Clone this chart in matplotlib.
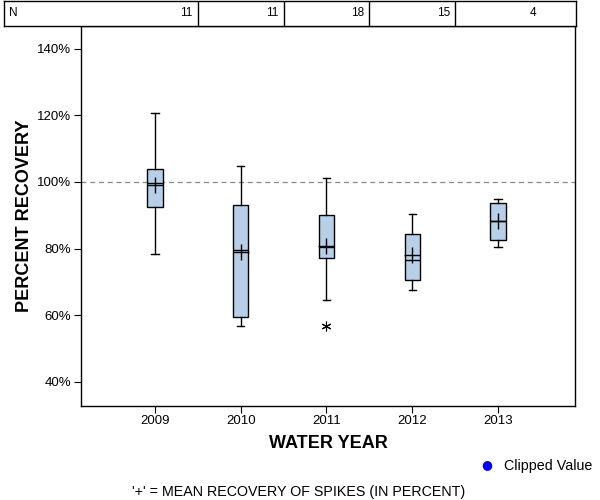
import matplotlib
matplotlib.use("Agg")
import matplotlib.pyplot as plt
from matplotlib.ticker import FuncFormatter

# --- data -----------------------------------------------------------------
years = ["2009", "2010", "2011", "2012", "2013"]
n_samples = [11, 11, 18, 15, 4]
whisker_low = [78.5, 56.7, 64.5, 67.6, 80.6]
q1 = [92.4, 59.4, 77.1, 70.6, 82.7]
median = [99.6, 79.5, 80.5, 76.5, 88.3]
q3 = [103.8, 93.0, 90.0, 84.5, 93.8]
whisker_high = [120.8, 104.8, 101.2, 90.3, 95.0]
mean = [99.0, 78.9, 80.8, 78.1, 88.2]
outliers = [[], [], [56.7], [], []]

BOX_COLOR = "#B8CFE8"
W, H = 600, 500

plt.rcParams["font.family"] = ["Liberation Sans", "DejaVu Sans"]

fig = plt.figure(figsize=(6, 5), dpi=100)
fig.patch.set_facecolor("white")

# main axes: pixel box 81..575 x 26..406
ax = fig.add_axes([81 / W, 1 - 406 / H, 494 / W, 380 / H])
pos = list(range(len(years)))

stats = []
for i in pos:
    stats.append({
        "whislo": whisker_low[i], "q1": q1[i], "med": median[i],
        "q3": q3[i], "whishi": whisker_high[i], "mean": mean[i],
        "fliers": outliers[i],
    })

ax.bxp(stats, positions=pos, widths=0.175, patch_artist=True,
       showmeans=True, showcaps=True, capwidths=0.085,
       boxprops=dict(facecolor=BOX_COLOR, edgecolor="black", linewidth=1),
       medianprops=dict(color="black", linewidth=1),
       whiskerprops=dict(color="black", linewidth=1),
       capprops=dict(color="black", linewidth=1),
       meanprops=dict(marker="+", markeredgecolor="black", markersize=12,
                      markeredgewidth=1),
       flierprops=dict(marker=(6, 2, 0), markeredgecolor="black",
                       markersize=7, markeredgewidth=0.8))

ax.axhline(100, color="#888888", linestyle=(0, (4, 3)), linewidth=0.9, zorder=0)

xmin, xmax = -0.863, 4.898
ax.set_xlim(xmin, xmax)
ax.set_ylim(32.8, 146.8)
ax.set_xticks(pos)
ax.set_xticklabels(years)
ax.set_yticks([40, 60, 80, 100, 120, 140])
ax.yaxis.set_major_formatter(FuncFormatter(lambda v, p: f"{v:.0f}%"))
ax.tick_params(axis="both", direction="out", length=5, width=0.8,
               labelsize=9.5, colors="black", pad=2)
ax.tick_params(axis="x", pad=1.5)
for s in ax.spines.values():
    s.set_linewidth(1)
ax.set_xlabel("WATER YEAR", fontsize=13, fontweight="bold", labelpad=6)
ax.set_ylabel("PERCENT RECOVERY", fontsize=13, fontweight="bold")
ax.yaxis.set_label_coords(-(81 - 33) / 494, 0.5)

# --- N table above the plot ----------------------------------------------
k = (xmax - xmin) / 494.0
tab = fig.add_axes([4 / W, 1 - 26 / H, 572 / W, 25.5 / H])
tab.set_xlim(xmin - 77 * k, xmax + 1 * k)
tab.set_ylim(0, 1)
tab.set_xticks([])
tab.set_yticks([])
for s in tab.spines.values():
    s.set_linewidth(1)
for i in pos[:-1]:
    tab.axvline(i + 0.5, color="black", linewidth=1)
tab.text(xmin - 77 * k + 5 * k, 0.5, "N", ha="left", va="center", fontsize=8.5)
for i, n in zip(pos, n_samples):
    tab.text(i + 0.5 - 5 * k, 0.5, str(n), ha="right", va="center", fontsize=8.5)

# --- legend and footnote -------------------------------------------------
fig.text(487 / W, 1 - 465 / H, "\u25CF", color="blue", fontsize=9,
         ha="center", va="center", family="DejaVu Sans")
fig.text(504 / W, 1 - 466 / H, "Clipped Value", fontsize=10.3,
         ha="left", va="center")
fig.text(299 / W, 1 - 492 / H, "'+' = MEAN RECOVERY OF SPIKES (IN PERCENT)",
         fontsize=10.3, ha="center", va="center")

fig.savefig("out.png", dpi=100, facecolor="white")
